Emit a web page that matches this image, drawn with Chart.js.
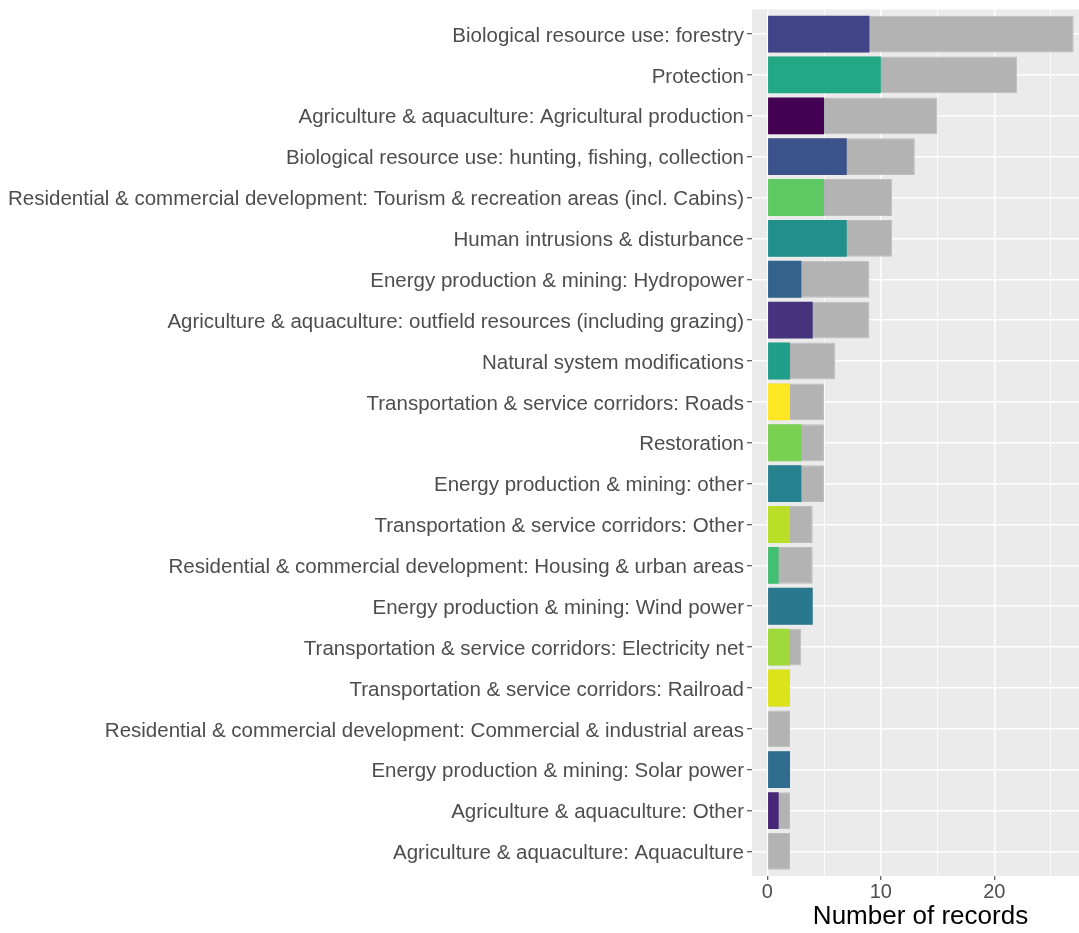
<!DOCTYPE html>
<html>
<head>
<meta charset="utf-8">
<script src="https://cdn.jsdelivr.net/npm/chart.js@4"></script>
<style>
  html, body { margin: 0; padding: 0; background: #ffffff; overflow: hidden; }
  #wrap { width: 1079px; height: 933px; overflow: hidden; }
</style>
</head>
<body>
<div id="wrap"><canvas id="chart"></canvas></div>
<script>
const categories = [
  "Biological resource use: forestry",
  "Protection",
  "Agriculture & aquaculture: Agricultural production",
  "Biological resource use: hunting, fishing, collection",
  "Residential & commercial development: Tourism & recreation areas (incl. Cabins)",
  "Human intrusions & disturbance",
  "Energy production & mining: Hydropower",
  "Agriculture & aquaculture: outfield resources (including grazing)",
  "Natural system modifications",
  "Transportation & service corridors: Roads",
  "Restoration",
  "Energy production & mining: other",
  "Transportation & service corridors: Other",
  "Residential & commercial development: Housing & urban areas",
  "Energy production & mining: Wind power",
  "Transportation & service corridors: Electricity net",
  "Transportation & service corridors: Railroad",
  "Residential & commercial development: Commercial & industrial areas",
  "Energy production & mining: Solar power",
  "Agriculture & aquaculture: Other",
  "Agriculture & aquaculture: Aquaculture"
];

const totalRecords = [27, 22, 15, 13, 11, 11, 9, 9, 6, 5, 5, 5, 4, 4, 4, 3, 2, 2, 2, 2, 2];

const subsetRecords = [9, 10, 5, 7, 5, 7, 3, 4, 2, 2, 3, 3, 2, 1, 4, 2, 2, 0, 2, 1, 0];

const xTickLabels = [0, 10, 20];

const barColors = [
  "#414487", "#22A884", "#440154", "#3B528B", "#5EC962", "#21908C", "#33638D",
  "#46337E", "#1F9E89", "#FDE725", "#7AD151", "#26828E", "#BBDF27", "#43BF71",
  "#2A788E", "#9FDA3A", "#DCE319", "#35B779", "#2F6C8E", "#482677", "#29AF7F"
];

// grey panel like ggplot's theme_gray
const panelBg = {
  id: "panelBg",
  beforeDraw(chart) {
    const { ctx, chartArea: a } = chart;
    ctx.save();
    ctx.fillStyle = "#EBEBEB";
    ctx.fillRect(a.left, a.top, a.right - a.left, a.bottom - a.top);
    ctx.restore();
  }
};

const isMajor = (v) => xTickLabels.includes(v);
const font = "Liberation Sans, Arial, sans-serif";

const config = {
  type: "bar",
  data: {
    datasets: [
      {
        label: "subset",
        data: subsetRecords.map((v, i) => ({ x: v, y: i })),
        backgroundColor: barColors,
        borderWidth: 0
      },
      {
        label: "total",
        data: totalRecords.map((v, i) => ({ x: v, y: i })),
        backgroundColor: "#B3B3B3",
        borderColor: "#BDBDBD",
        borderWidth: 1
      }
    ]
  },
  options: {
    indexAxis: "y",
    responsive: false,
    animation: false,
    grouped: false,
    categoryPercentage: 0.9,
    barPercentage: 1.0,
    layout: { padding: { top: 9.5, left: 0, right: 0, bottom: 0 } },
    plugins: {
      legend: { display: false },
      tooltip: { enabled: false }
    },
    scales: {
      x: {
        type: "linear",
        min: -1.35,
        max: 28.35,
        border: { display: false },
        afterFit(scale) { scale.height = 57; },
        ticks: {
          stepSize: 5,
          includeBounds: false,
          padding: 0,
          color: "#4D4D4D",
          font: { family: font, size: 20 },
          maxRotation: 0,
          callback: (v) => (isMajor(v) ? String(v) : "")
        },
        grid: {
          color: "#FFFFFF",
          lineWidth: (c) => (c.tick && isMajor(c.tick.value) ? 1.5 : 0.8),
          tickColor: (c) => (c.tick && isMajor(c.tick.value) ? "#333333" : "rgba(0,0,0,0)"),
          tickLength: 4,
          tickWidth: 1
        },
        title: {
          display: true,
          text: "Number of records",
          color: "#000000",
          font: { family: font, size: 26 },
          padding: { top: 0, bottom: 1 }
        }
      },
      y: {
        type: "linear",
        reverse: true,
        offset: false,
        min: -0.6,
        max: categories.length - 0.4,
        border: { display: false },
        afterFit(scale) {
          scale.width = 752;
          scale.paddingTop = 0;
          scale.paddingBottom = 0;
        },
        afterBuildTicks(scale) {
          scale.ticks = categories.map((_, i) => ({ value: i }));
        },
        ticks: {
          autoSkip: false,
          padding: 3,
          labelOffset: 2,
          color: "#4D4D4D",
          font: { family: font, size: 20.5 },
          callback: (v) => categories[v]
        },
        grid: {
          offset: false,
          color: "#FFFFFF",
          lineWidth: 1.5,
          tickColor: "#333333",
          tickLength: 5,
          tickWidth: 1
        }
      }
    }
  },
  plugins: [panelBg]
};

window.onload = function () {
  const canvas = document.getElementById("chart");
  // panel runs past the right edge of the window, as in the reference
  canvas.width = 1089;
  canvas.height = 933;
  window.chart = new Chart(canvas.getContext("2d"), config);
};
</script>
</body>
</html>
